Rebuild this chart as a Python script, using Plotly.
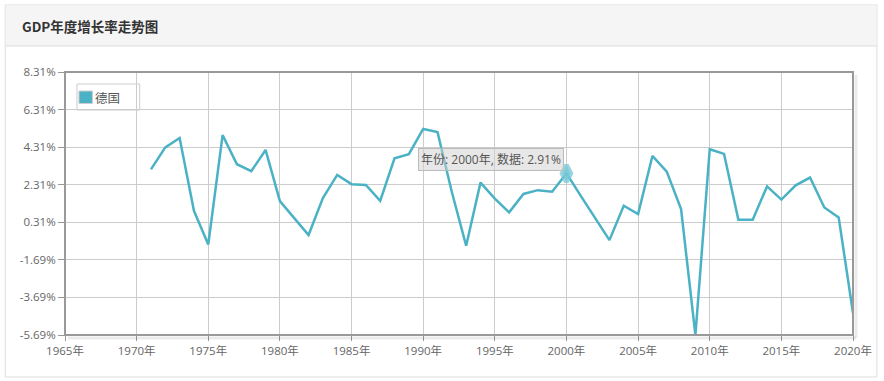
import plotly.graph_objects as go

# ---------------- data ----------------
TITLE = "GDP年度增长率走势图"
SERIES_NAME = "德国"
YEARS = [1971, 1972, 1973, 1974, 1975, 1976, 1977, 1978, 1979, 1980,
         1981, 1982, 1983, 1984, 1985, 1986, 1987, 1988, 1989, 1990,
         1991, 1992, 1993, 1994, 1995, 1996, 1997, 1998, 1999, 2000,
         2001, 2002, 2003, 2004, 2005, 2006, 2007, 2008, 2009, 2010,
         2011, 2012, 2013, 2014, 2015, 2016, 2017, 2018, 2019, 2020]
GROWTH = [3.13, 4.30, 4.80, 0.92, -0.87, 4.95, 3.40, 3.03, 4.16, 1.44,
          0.53, -0.37, 1.60, 2.83, 2.34, 2.30, 1.45, 3.72, 3.94, 5.28,
          5.11, 1.92, -0.94, 2.42, 1.57, 0.84, 1.82, 2.02, 1.94, 2.91,
          1.72, 0.53, -0.64, 1.19, 0.75, 3.84, 3.01, 1.01, -5.69, 4.20,
          3.95, 0.45, 0.45, 2.22, 1.52, 2.28, 2.69, 1.10, 0.57, -4.52]
X_TICKS = [1965, 1970, 1975, 1980, 1985, 1990, 1995, 2000, 2005, 2010, 2015, 2020]
X_TICK_LABELS = ["1965年", "1970年", "1975年", "1980年", "1985年", "1990年",
                 "1995年", "2000年", "2005年", "2010年", "2015年", "2020年"]
Y_TICKS = [-5.69, -3.69, -1.69, 0.31, 2.31, 4.31, 6.31, 8.31]
Y_TICK_LABELS = ["-5.69%", "-3.69%", "-1.69%", "0.31%", "2.31%", "4.31%", "6.31%", "8.31%"]
HIGHLIGHT_YEAR = 2000
HIGHLIGHT_VALUE = 2.91

# ---------------- layout geometry ----------------
W, H = 884, 381
L, R, T, B = 65, 856, 72, 335   # plot area in pixels


def px(x):
    return (x - L) / (R - L)


def py(y):
    return (B - y) / (B - T)


LINE_COLOR = "#4bb2c5"
TICK_FONT = dict(family="Open Sans, Noto Sans CJK SC, sans-serif", size=11.5, color="#666666")

fig = go.Figure()

fig.add_trace(go.Scatter(
    x=YEARS, y=GROWTH, mode="lines", name=SERIES_NAME,
    line=dict(color=LINE_COLOR, width=2.5), showlegend=False,
    hoverinfo="skip",
))

# highlighted point (hover diamond)
fig.add_trace(go.Scatter(
    x=[HIGHLIGHT_YEAR], y=[HIGHLIGHT_VALUE], mode="markers", showlegend=False,
    marker=dict(symbol="diamond-tall", size=12, color="rgba(120,200,214,0.75)",
                line=dict(color="rgba(120,200,214,0.75)", width=5)),
    hoverinfo="skip",
))

shapes = []
# outer panel
x0, x1, y0, y1 = px(5), px(880), py(5), py(377)
shapes.append(dict(type="rect", xref="paper", yref="paper", x0=x0, x1=x1, y0=y1, y1=y0,
                   line=dict(color="#dddddd", width=1), fillcolor="white", layer="below"))
# header
shapes.append(dict(type="rect", xref="paper", yref="paper", x0=px(5.5), x1=px(879.5),
                   y0=py(46), y1=py(5.5), line=dict(width=0), fillcolor="#f5f5f5", layer="below"))
shapes.append(dict(type="line", xref="paper", yref="paper", x0=px(5), x1=px(880),
                   y0=py(46), y1=py(46), line=dict(color="#dddddd", width=1), layer="below"))
# plot-area shadow
shapes.append(dict(type="line", xref="paper", yref="paper", x0=px(L + 3), x1=px(R + 3),
                   y0=py(B + 3), y1=py(B + 3), line=dict(color="rgba(0,0,0,0.08)", width=3)))
shapes.append(dict(type="line", xref="paper", yref="paper", x0=px(R + 3), x1=px(R + 3),
                   y0=py(T + 3), y1=py(B + 3), line=dict(color="rgba(0,0,0,0.08)", width=3)))
# plot-area border
shapes.append(dict(type="rect", xref="paper", yref="paper", x0=0, x1=1, y0=0, y1=1,
                   line=dict(color="#999999", width=2)))
# manual legend
shapes.append(dict(type="rect", xref="paper", yref="paper", x0=px(77), x1=px(140),
                   y0=py(110), y1=py(84), line=dict(color="#cccccc", width=1)))
shapes.append(dict(type="rect", xref="paper", yref="paper", x0=px(79), x1=px(92.5),
                   y0=py(103.5), y1=py(91), line=dict(color="#cccccc", width=1),
                   fillcolor=LINE_COLOR))

annotations = [
    dict(text="<b>" + TITLE + "</b>", xref="paper", yref="paper", x=px(20), y=py(26),
         xanchor="left", yanchor="middle", showarrow=False,
         font=dict(family="Noto Sans CJK SC, sans-serif", size=13.5, color="#333333")),
    dict(text=SERIES_NAME, xref="paper", yref="paper", x=px(93.5), y=py(97.5),
         xanchor="left", yanchor="middle", showarrow=False,
         font=dict(family="Noto Sans CJK SC, sans-serif", size=12.5, color="#555555")),
    dict(text=f"年份: {HIGHLIGHT_YEAR}年, 数据: {HIGHLIGHT_VALUE}%", x=HIGHLIGHT_YEAR, y=HIGHLIGHT_VALUE,
         xref="x", yref="y", xanchor="right", yanchor="bottom", xshift=-2, yshift=2,
         showarrow=False, bgcolor="rgba(208,208,208,0.5)", bordercolor="#bbbbbb",
         borderwidth=1, borderpad=2,
         font=dict(family="Open Sans, Noto Sans CJK SC, sans-serif", size=12, color="#555555")),
]

fig.update_layout(
    width=W, height=H, autosize=False,
    margin=dict(l=L, r=W - R, t=T, b=H - B, pad=0),
    paper_bgcolor="white", plot_bgcolor="#fffdf6",
    showlegend=False, hovermode=False,
    shapes=shapes, annotations=annotations,
    xaxis=dict(range=[X_TICKS[0], X_TICKS[-1]], tickmode="array", tickvals=X_TICKS,
               ticktext=X_TICK_LABELS, showgrid=True, gridcolor="#cccccc", gridwidth=1,
               zeroline=False, showline=False, ticks="outside", ticklen=5,
               tickcolor="#999999", tickfont=TICK_FONT, fixedrange=True),
    yaxis=dict(range=[Y_TICKS[0], Y_TICKS[-1]], tickmode="array", tickvals=Y_TICKS,
               ticktext=Y_TICK_LABELS, showgrid=True, gridcolor="#cccccc", gridwidth=1,
               zeroline=False, showline=False, ticks="outside", ticklen=6,
               tickcolor="#999999", tickfont=TICK_FONT, fixedrange=True),
)

fig.write_html(
    "out.html",
    config={"displayModeBar": False},
    post_script="document.body.style.margin='0';document.body.style.padding='0';document.body.style.overflow='hidden';",
)
